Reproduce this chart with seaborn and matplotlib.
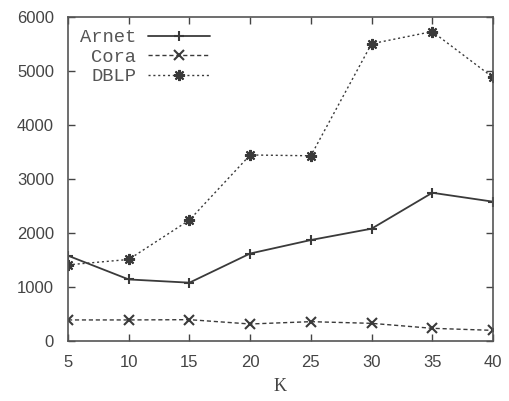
import numpy as np
import pandas as pd
import matplotlib
matplotlib.use("Agg")
import matplotlib.pyplot as plt
import seaborn as sns

K = [5, 10, 15, 20, 25, 30, 35, 40]
arnet = [1580, 1140, 1080, 1620, 1870, 2080, 2745, 2580]
cora = [390, 390, 395, 315, 358, 327, 235, 197]
dblp = [1410, 1510, 2240, 3445, 3430, 5505, 5730, 4880]
series_names = ["Arnet", "Cora", "DBLP"]
y_ticks = [0, 1000, 2000, 3000, 4000, 5000, 6000]
x_label = "K"

sns.set_style("ticks")
plt.rcParams["font.family"] = ["Liberation Sans", "DejaVu Sans"]

fig = plt.figure(figsize=(5.1, 4.01), dpi=100)
ax = fig.add_axes([68/510, 60/401, (493-68)/510, (341-17)/401])

col = "#3a3a3a"
styles = {
    "Arnet": dict(linestyle="-", marker="+", markersize=7, lw=1.3),
    "Cora": dict(linestyle=(0, (3, 2)), marker="x", markersize=7, lw=1.0),
    "DBLP": dict(linestyle=(0, (1.5, 2)), marker=(8, 2, 0), markersize=8, lw=1.0),
}
for name, vals in zip(series_names, [arnet, cora, dblp]):
    st = styles[name]
    sns.lineplot(x=K, y=vals, ax=ax, color=col, label=name,
                 linestyle=st["linestyle"], marker=st["marker"],
                 markersize=st["markersize"], linewidth=st["lw"],
                 markeredgewidth=1.5, markeredgecolor=col)

ax.set_xlim(5, 40)
ax.set_ylim(0, 6000)
ax.set_xticks(K)
ax.set_yticks(y_ticks)
ax.tick_params(direction="in", top=True, right=True, length=5, width=1,
               colors="#444444", labelsize=12, labelcolor="#444444", pad=10)
for s in ax.spines.values():
    s.set_color("#555555")
    s.set_linewidth(1.2)
ax.set_xlabel(x_label, fontfamily="Liberation Serif", fontsize=13, color="#444444", labelpad=6)
ax.set_ylabel("")

leg = ax.legend(loc="upper left", frameon=False, markerfirst=False,
                prop={"family": "Liberation Mono", "size": 13.5},
                handlelength=3.3, handletextpad=0.6, borderaxespad=0.25,
                labelspacing=0.12, bbox_to_anchor=(0.0, 1.0))
for t in leg.get_texts():
    t.set_color("#555555")

fig.savefig("out.png", dpi=100)
